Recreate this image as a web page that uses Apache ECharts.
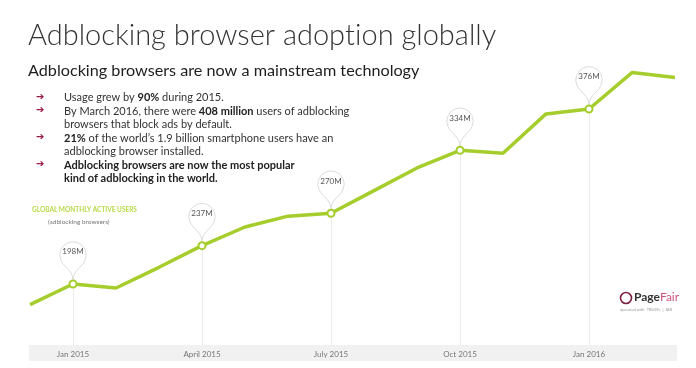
<!DOCTYPE html>
<html><head><meta charset="utf-8">
<script src="https://cdn.jsdelivr.net/npm/echarts@6/dist/echarts.min.js"></script>
<style>html,body{margin:0;padding:0;background:#fff}#c{width:696px;height:368px}</style>
</head><body><div id="c"></div>
<script>
const categories = ['Dec 2014','Jan 2015','Feb 2015','Mar 2015','April 2015','May 2015','Jun 2015','July 2015','Aug 2015','Sep 2015','Oct 2015','Nov 2015','Dec 2015','Jan 2016','Feb 2016','Mar 2016'];
const users = [177, 198, 194, 215, 237, 256, 267, 270, 293, 316, 334, 331, 371, 376, 413, 408];
const tickLabels = ['Jan 2015','April 2015','July 2015','Oct 2015','Jan 2016'];
const calloutMonths = ['Jan 2015','April 2015','July 2015','Oct 2015','Jan 2016'];
const titleText = 'Adblocking browser adop{t|t}ion globally';
const subtitleText = 'Adblocking browsers are now a mainstream technology';
const bulletLines = [
  ['➔', 'Usage grew by {b|90%} during 2015.'],
  ['➔', 'By March 2016, there were {b|408 million} users of adblocking'],
  ['', 'browsers that block ads by default.'],
  ['➔', '{b|21%} of the world\u2019s 1.9 billion smartphone users have an'],
  ['', 'adblocking browser installed.'],
  ['➔', '{b|Adblocking browsers are now the most popular}'],
  ['', '{b|kind of adblocking in the world.}']
];
const legendTitle = 'GLOBAL MONTHLY ACTIVE USERS';
const legendSub = '(adblocking browsers)';

const GREEN = '#a5cd2c';
const FONT = 'Lato, "Open Sans", sans-serif';

const lineData = users.map((v, i) => ({
  value: v,
  symbol: calloutMonths.includes(categories[i]) ? 'circle' : 'none'
}));
const pins = calloutMonths.map(m => {
  const i = categories.indexOf(m);
  return { coord: [m, users[i]], value: users[i] };
});
const vlines = calloutMonths.map(m => {
  const i = categories.indexOf(m);
  return [{ coord: [m, users[i]] }, { coord: [m, 136] }];
});

const titleFont = '300 29px ' + FONT;
const graphics = [
  { type: 'rect', z: 0, shape: { x: 29, y: 345, width: 648, height: 16 }, style: { fill: '#f1f1f1' } },
  { type: 'text', left: 28, top: 21, style: { text: titleText, font: titleFont, fill: '#333', rich: { t: { font: titleFont, fill: '#333' } } } },
  { type: 'text', left: 28, top: 63, style: { text: subtitleText, font: '400 16.2px ' + FONT, fill: '#1e1e1e' } },
  { type: 'text', left: 32, top: 206, style: { text: legendTitle, font: '700 6.5px ' + FONT, fill: '#b9d94a' } },
  { type: 'text', left: 48, top: 218, style: { text: legendSub, font: '400 6.5px ' + FONT, fill: '#777' } },
  { type: 'circle', shape: { cx: 626, cy: 298, r: 5.5 }, style: { fill: 'none', stroke: '#7b2140', lineWidth: 1.6 } },
  { type: 'text', left: 634, top: 291, style: { text: '{p|Page}{f|Fair}', rich: { p: { font: '700 12px ' + FONT, fill: '#333' }, f: { font: '400 12px ' + FONT, fill: '#c9577e' } } } },
  { type: 'text', left: 620, top: 308, style: { text: 'operated with  TRUSTe  |  IAB', font: '400 4px ' + FONT, fill: '#999' } }
];
bulletLines.forEach((ln, k) => {
  const y = 92 + k * 13.5;
  if (ln[0]) graphics.push({ type: 'text', left: 36, top: y, style: { text: ln[0], font: '700 10px "DejaVu Sans"', fill: '#9b1b40' } });
  graphics.push({ type: 'text', left: 64, top: y, style: { text: ln[1], font: '400 11px ' + FONT, fill: '#333', rich: { b: { font: '700 11px ' + FONT, fill: '#222' } } } });
});

const chart = echarts.init(document.getElementById('c'));
chart.setOption({
  animation: false,
  backgroundColor: '#fff',
  grid: { left: 30, right: 21, top: 65.7, bottom: 23 },
  xAxis: {
    type: 'category', data: categories, boundaryGap: false,
    axisLine: { show: false }, axisTick: { show: false }, splitLine: { show: false },
    axisLabel: {
      interval: (i, v) => tickLabels.includes(v),
      color: '#777', fontSize: 8, fontFamily: FONT, margin: 5
    }
  },
  yAxis: { type: 'value', min: 136, max: 420, show: false, splitLine: { show: false } },
  graphic: graphics,
  series: [{
    type: 'line', data: lineData, z: 5,
    lineStyle: { color: GREEN, width: 3.5 },
    itemStyle: { color: '#fff', borderColor: GREEN, borderWidth: 2 },
    symbolSize: 7,
    markLine: {
      silent: true, symbol: 'none', label: { show: false },
      lineStyle: { color: '#ececec', width: 1, type: 'solid' },
      data: vlines
    },
    markPoint: {
      symbol: 'pin', symbolSize: [44, 44], symbolOffset: [0, -4],
      itemStyle: { color: 'rgba(255,255,255,0.95)', borderColor: '#dcdcdc', borderWidth: 1 },
      label: { formatter: '{c}M', color: '#555', fontSize: 8, fontFamily: FONT, offset: [0, -5] },
      data: pins
    }
  }]
});
</script></body></html>
